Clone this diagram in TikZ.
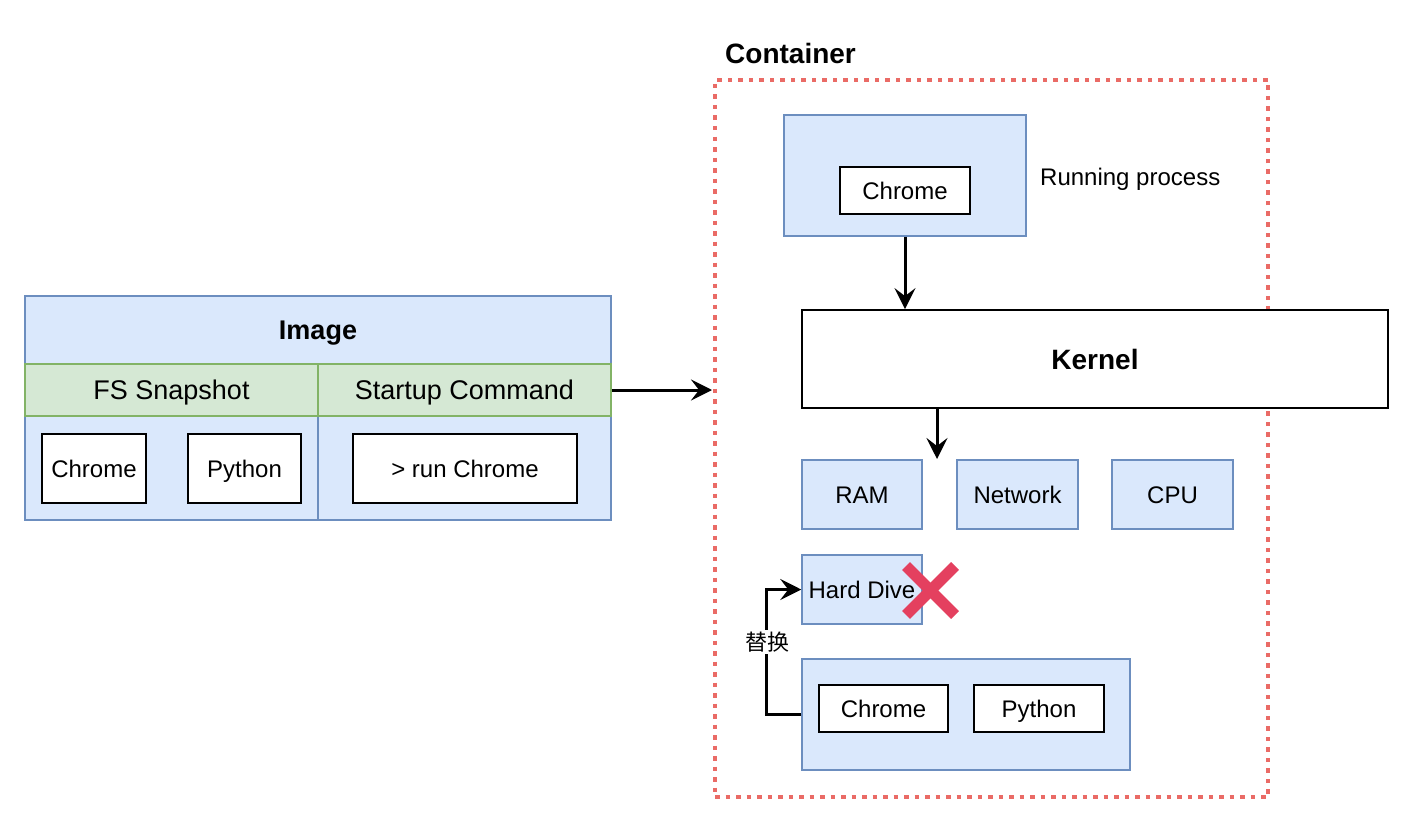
\documentclass[tikz,border=0pt]{standalone}
\usepackage{fontspec}
\setmainfont{Liberation Sans}
\newfontfamily\cjk{Noto Sans CJK SC}
\usetikzlibrary{arrows.meta}
\definecolor{bfill}{HTML}{DAE8FC}
\definecolor{bline}{HTML}{6C8EBF}
\definecolor{gfill}{HTML}{D5E8D4}
\definecolor{gline}{HTML}{82B366}
\definecolor{cred}{HTML}{EA6B66}
\definecolor{xred}{HTML}{E4405F}
\tikzset{
  small/.style={font=\fontsize{24}{28}\selectfont, text height=17.2pt, text depth=0pt},
  large/.style={font=\fontsize{27}{32}\selectfont, text height=19.4pt, text depth=0pt},
  bold/.style={font=\bfseries\fontsize{28}{33}\selectfont, text height=20.1pt, text depth=0pt},
  bluebox/.style={draw=bline, fill=bfill, line width=1.5pt, inner sep=0pt, small},
  greenbox/.style={draw=gline, fill=gfill, line width=1.5pt, inner sep=0pt, large},
  whitebox/.style={draw=black, fill=white, line width=1.8pt, inner sep=0pt, small},
  txt/.style={inner sep=0pt, small},
  conn/.style={draw=black, line width=3pt, -{Stealth[length=21pt,width=21pt,inset=8pt]}},
}
\begin{document}
\begin{tikzpicture}[x=1pt,y=-1pt]
\useasboundingbox (0,0) rectangle (1414,824);
% Image
\node[bluebox, minimum width=586, minimum height=68, bold, font=\bfseries\fontsize{27}{32}\selectfont, text height=19.4pt] (imghead) at (318,330) {Image};
\node[bluebox, minimum width=293, minimum height=104] (imgbl) at (171.5,468) {};
\node[bluebox, minimum width=293, minimum height=104] (imgbr) at (464.5,468) {};
\node[greenbox, minimum width=293, minimum height=52] (imgfs) at (171.5,390) {FS Snapshot};
\node[greenbox, minimum width=293, minimum height=52] (imgsc) at (464.5,390) {Startup Command};
\node[whitebox, minimum width=104, minimum height=69] (ichrome) at (94,468.5) {Chrome};
\node[whitebox, minimum width=113, minimum height=69] (ipython) at (244.5,468.5) {Python};
\node[whitebox, minimum width=224, minimum height=69] (irun) at (465,468.5) {> run Chrome};
% Container
\node[draw=cred, line width=4.5pt, dash pattern=on 4.5pt off 6pt, minimum width=553, minimum height=717, inner sep=0pt] (cont) at (991.5,438.5) {};
\node[anchor=west, inner sep=0pt, bold] (conttitle) at (725,53) {Container};
% Running process
\node[bluebox, minimum width=242, minimum height=121] (proc) at (905,175.5) {};
\node[whitebox, minimum width=130, minimum height=47] (pchrome) at (905,190.5) {Chrome};
\node[txt, anchor=west] (runlbl) at (1040,177) {Running process};
% Kernel
\node[draw=black, fill=white, line width=1.8pt, minimum width=586, minimum height=98, inner sep=0pt, bold] (kernel) at (1095,359) {Kernel};
% Resources
\node[bluebox, minimum width=120, minimum height=69] (ram) at (862,494.5) {RAM};
\node[bluebox, minimum width=121, minimum height=69] (net) at (1017.5,494.5) {Network};
\node[bluebox, minimum width=121, minimum height=69] (cpu) at (1172.5,494.5) {CPU};
\node[bluebox, minimum width=120, minimum height=69] (hd) at (862,589.5) {Hard Dive};
% red X
\draw[xred, line width=11pt, line cap=butt] (906,566) -- (955,615);
\draw[xred, line width=11pt, line cap=butt] (955,566) -- (906,615);
% Bottom FS
\node[bluebox, minimum width=328, minimum height=111] (fs) at (966,714.5) {};
\node[whitebox, minimum width=129, minimum height=47] (fchrome) at (883.5,708.5) {Chrome};
\node[whitebox, minimum width=130, minimum height=47] (fpython) at (1039,708.5) {Python};
% Connectors
\coordinate (cin) at (712,390);
\draw[conn] (imgsc.east) -- (cin);
\draw[conn] (proc.south) -- (proc.south |- kernel.north);
\coordinate (kend) at (937,459);
\draw[conn] (kernel.south -| kend) -- (kend);
\draw[conn] (fs.west) -- ++(-35,0) |- (hd.west);
\node[fill=white, inner sep=2pt, font=\cjk\fontsize{22}{26}\selectfont] (replbl) at (767,642) {替换};
\end{tikzpicture}
\end{document}
